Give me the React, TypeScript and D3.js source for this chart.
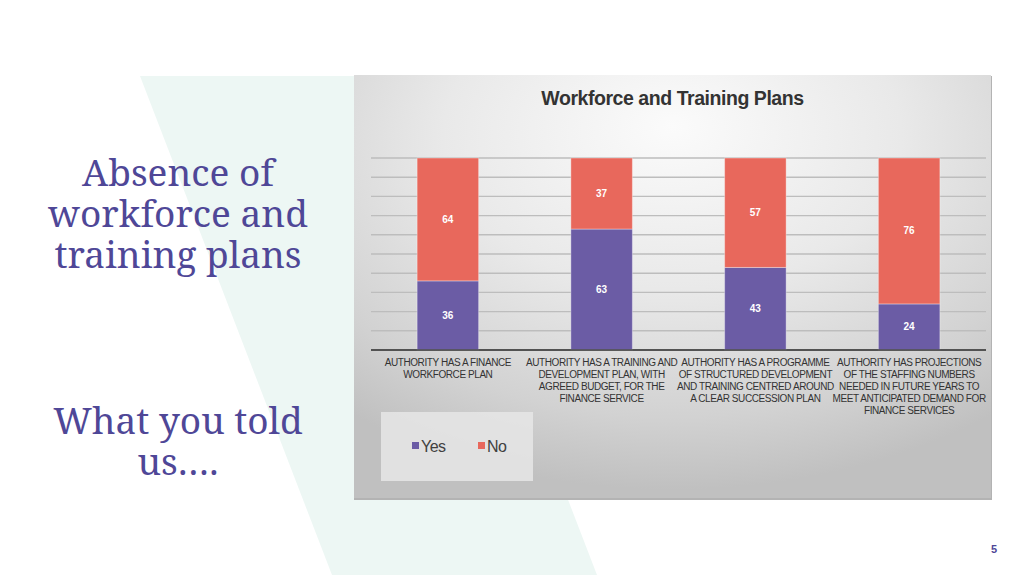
import React from "react";
import * as d3 from "d3";

const categories = [
  "AUTHORITY HAS A FINANCE|WORKFORCE PLAN",
  "AUTHORITY HAS A TRAINING AND|DEVELOPMENT PLAN, WITH|AGREED BUDGET, FOR THE|FINANCE SERVICE",
  "AUTHORITY HAS A PROGRAMME|OF STRUCTURED DEVELOPMENT|AND TRAINING CENTRED AROUND|A CLEAR SUCCESSION PLAN",
  "AUTHORITY HAS PROJECTIONS|OF THE STAFFING NUMBERS|NEEDED IN FUTURE YEARS TO|MEET ANTICIPATED DEMAND FOR|FINANCE SERVICES",
];
const yesValues = [36, 63, 43, 24];
const noValues = [64, 37, 57, 76];
const seriesNames = ["Yes", "No"];
const seriesColors = ["#6b5ca5", "#e8685c"];
const chartTitle = "Workforce and Training Plans";
const headingLines = ["Absence of", "workforce and", "training plans"];
const subLines = ["What you told", "us…."];
const pageNumber = "5";

export default function App() {
  const W = 1024;
  const H = 575;
  const panel = { x: 354, y: 75, w: 637, h: 423 };
  const plot = { left: 371, right: 986, top: 158, bottom: 350 };

  const rows = categories.map((c, i) => ({ cat: c, Yes: yesValues[i], No: noValues[i] }));
  const stacked = d3.stack<any>().keys(seriesNames)(rows);

  const x = d3
    .scaleBand<string>()
    .domain(categories)
    .range([plot.left, plot.right])
    .paddingInner(0.6)
    .paddingOuter(0.3);
  const y = d3.scaleLinear().domain([0, 100]).range([plot.bottom, plot.top]);
  const ticks = y.ticks(10);
  const purple = "#4f4797";
  const sans = "'Liberation Sans', Arial, sans-serif";
  const serif = "'Noto Serif', 'DejaVu Serif Condensed', 'DejaVu Serif', serif";

  return (
    <svg
      width={W}
      height={H}
      style={{ position: "absolute", left: 0, top: 0, display: "block", background: "#ffffff" }}
    >
      <defs>
        <radialGradient id="panelGrad" cx="50%" cy="18%" r="80%" fx="50%" fy="12%">
          <stop offset="0%" stopColor="#fbfbfb" />
          <stop offset="45%" stopColor="#e9e9e9" />
          <stop offset="80%" stopColor="#d2d2d2" />
          <stop offset="100%" stopColor="#c0c0c0" />
        </radialGradient>
      </defs>
      {/* mint parallelogram */}
      <polygon points="140,76 405,76 597,575 332,575" fill="#edf7f4" />

      {/* left heading */}
      <g fontFamily={serif} fill={purple} fontSize={37} textAnchor="middle">
        {headingLines.map((t, i) => (
          <text key={t} x={178} y={186 + i * 41}>
            {t}
          </text>
        ))}
        {subLines.map((t, i) => (
          <text key={t} x={178} y={434 + i * 41}>
            {t}
          </text>
        ))}
      </g>

      {/* chart panel */}
      <rect x={panel.x} y={panel.y + 1} width={panel.w + 1} height={panel.h + 1} fill="#b3b3b3" />
      <rect x={panel.x} y={panel.y} width={panel.w} height={panel.h} fill="url(#panelGrad)" />

      <text
        x={panel.x + panel.w / 2}
        y={105}
        textAnchor="middle"
        fontFamily={sans}
        fontWeight="bold"
        fontSize={19.5}
        letterSpacing={-0.45}
        fill="#333333"
      >
        {chartTitle}
      </text>

      {/* gridlines */}
      {ticks.map((t) => (
        <line
          key={t}
          x1={plot.left}
          x2={plot.right}
          y1={y(t)}
          y2={y(t)}
          stroke={t === 0 ? "#4a4a4a" : "#bdbdbd"}
          strokeWidth={t === 0 ? 1.6 : 1.4}
        />
      ))}

      {/* bars */}
      {stacked.map((s, si) => (
        <g key={s.key}>
          {s.map((d, i) => {
            const bx = x(categories[i]) as number;
            const y0 = y(d[0]);
            const y1 = y(d[1]);
            const v = d[1] - d[0];
            return (
              <g key={i}>
                <rect
                  x={bx}
                  y={y1}
                  width={x.bandwidth()}
                  height={y0 - y1}
                  fill={seriesColors[si]}
                  stroke="rgba(255,255,255,0.35)"
                  strokeWidth={1}
                />
                <text
                  x={bx + x.bandwidth() / 2}
                  y={(y0 + y1) / 2 + 3.5}
                  textAnchor="middle"
                  fontFamily={sans}
                  fontWeight="bold"
                  fontSize={10}
                  fill="#ffffff"
                >
                  {v}
                </text>
              </g>
            );
          })}
        </g>
      ))}

      {/* axis line on top */}
      <line x1={plot.left} x2={plot.right} y1={y(0)} y2={y(0)} stroke="#4a4a4a" strokeWidth={1.6} />

      {/* category labels */}
      {categories.map((c) => (
        <text
          key={c}
          textAnchor="middle"
          fontFamily={sans}
          fontSize={10}
          letterSpacing={-0.42}
          fill="#333333"
        >
          {c.split("|").map((ln, li) => (
            <tspan key={li} x={(x(c) as number) + x.bandwidth() / 2} y={366 + li * 12}>
              {ln}
            </tspan>
          ))}
        </text>
      ))}

      {/* legend */}
      <rect x={381} y={412} width={152} height={69} fill="#e6e6e6" opacity={0.85} />
      {seriesNames.map((n, i) => (
        <g key={n} transform={`translate(${412 + i * 66},0)`}>
          <rect x={0} y={442} width={7} height={7} fill={seriesColors[i]} />
          <text x={9} y={452} fontFamily={sans} fontSize={16} letterSpacing={-0.5} fill="#404040">
            {n}
          </text>
        </g>
      ))}

      {/* page number */}
      <text x={994} y={553} textAnchor="middle" fontFamily={sans} fontWeight="bold" fontSize={11} fill={purple}>
        {pageNumber}
      </text>
    </svg>
  );
}
